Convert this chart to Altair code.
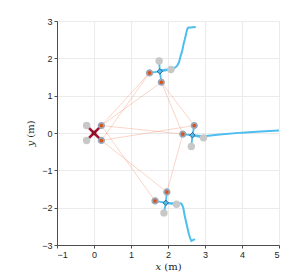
import altair as alt
import pandas as pd

# ---------------- data ----------------
robot_names = ["R1", "R2", "R3", "R4"]
center_x = [0.0, 1.78, 2.66, 1.94]
center_y = [0.0, 1.65, -0.06, -1.87]
gray_x = [[-0.2, -0.2], [1.76, 2.08], [2.96, 2.63], [2.23, 1.89]]
gray_y = [[0.2, -0.2], [1.93, 1.70], [-0.13, -0.36], [-1.91, -2.14]]
orange_x = [[0.2, 0.2], [1.50, 1.82], [2.40, 2.71], [1.65, 1.97]]
orange_y = [[0.2, -0.2], [1.61, 1.36], [-0.03, 0.20], [-1.82, -1.58]]

# links between orange markers: (robot, marker) -> (robot, marker)
links = [
    ((0, 0), (1, 0)),
    ((0, 0), (1, 1)),
    ((0, 1), (1, 0)),
    ((0, 0), (2, 0)),
    ((0, 1), (2, 1)),
    ((0, 0), (3, 0)),
    ((0, 1), (3, 1)),
    ((1, 1), (2, 0)),
    ((1, 1), (2, 1)),
    ((2, 0), (3, 1)),
]

traj_top_x = [1.80, 2.07, 2.16, 2.24, 2.30, 2.34, 2.39, 2.42, 2.45, 2.48, 2.51, 2.54, 2.75]
traj_top_y = [1.68, 1.71, 1.73, 1.79, 1.90, 2.06, 2.22, 2.38, 2.49, 2.62, 2.75, 2.82, 2.84]
traj_right_x = [2.66, 2.97, 3.40, 4.00, 4.50, 5.00]
traj_right_y = [-0.06, -0.09, -0.04, 0.01, 0.04, 0.07]
traj_bot_x = [1.94, 2.25, 2.36, 2.41, 2.45, 2.51, 2.56, 2.60, 2.63, 2.73]
traj_bot_y = [-1.88, -1.88, -1.89, -1.99, -2.21, -2.47, -2.69, -2.82, -2.89, -2.84]

x_ticks = [-1, 0, 1, 2, 3, 4, 5]
y_ticks = [-3, -2, -1, 0, 1, 2, 3]

# ---------------- tables ----------------
arms = []
for i, r in enumerate(robot_names):
    for px, py in zip(gray_x[i] + orange_x[i], gray_y[i] + orange_y[i]):
        arms.append({"robot": r, "x": center_x[i], "y": center_y[i], "x2": px, "y2": py,
                     "lead": i == 0})
arms = pd.DataFrame(arms)

grays = pd.DataFrame([{"x": x, "y": y} for i in range(4) for x, y in zip(gray_x[i], gray_y[i])])
oranges = pd.DataFrame([{"x": x, "y": y} for i in range(4) for x, y in zip(orange_x[i], orange_y[i])])
centers = pd.DataFrame({"robot": robot_names, "x": center_x, "y": center_y, "lead": [True, False, False, False]})

link_df = pd.DataFrame([
    {"x": orange_x[a][b], "y": orange_y[a][b], "x2": orange_x[c][d], "y2": orange_y[c][d]}
    for (a, b), (c, d) in links
])

traj = pd.concat([
    pd.DataFrame({"id": "top", "x": traj_top_x, "y": traj_top_y, "o": range(len(traj_top_x))}),
    pd.DataFrame({"id": "right", "x": traj_right_x, "y": traj_right_y, "o": range(len(traj_right_x))}),
    pd.DataFrame({"id": "bot", "x": traj_bot_x, "y": traj_bot_y, "o": range(len(traj_bot_x))}),
])

xs = alt.Scale(domain=[-1, 5], nice=False)
ys = alt.Scale(domain=[-3, 3], nice=False)

X = alt.X("x:Q", scale=xs, axis=alt.Axis(values=x_ticks, title="𝑥 (m)", titleFont="DejaVu Serif",
                                         titleFontSize=10, titleFontWeight="normal", titlePadding=2))
Y = alt.Y("y:Q", scale=ys, axis=alt.Axis(values=y_ticks, title="𝑦 (m)", titleFont="DejaVu Serif",
                                         titleFontSize=10, titleFontWeight="normal", titlePadding=6))

link_layer = alt.Chart(link_df).mark_rule(color="#F08A65", opacity=0.45, strokeWidth=0.8).encode(
    x=X, y=Y, x2="x2:Q", y2="y2:Q")

traj_layer = alt.Chart(traj).mark_line(color="#4DBEEE", strokeWidth=2).encode(
    x=X, y=Y, detail="id:N", order="o:Q")

arm_blue = alt.Chart(arms[~arms["lead"]]).mark_rule(color="#4DBEEE", strokeWidth=1.8).encode(
    x=X, y=Y, x2="x2:Q", y2="y2:Q")
arm_red = alt.Chart(arms[arms["lead"]]).mark_rule(color="#A2142F", strokeWidth=2.5).encode(
    x=X, y=Y, x2="x2:Q", y2="y2:Q")

gray_layer = alt.Chart(grays).mark_circle(color="#C8C8C8", size=55, opacity=1).encode(x=X, y=Y)
orange_layer = alt.Chart(oranges).mark_point(shape="circle", filled=True, fill="#D95319", size=30,
                                             stroke="#9AA6B8", strokeWidth=1.8, opacity=1).encode(x=X, y=Y)
center_blue = alt.Chart(centers[~centers["lead"]]).mark_point(shape="diamond", filled=True, fill="#4DBEEE",
                                                              stroke="#1F4E79", strokeWidth=0.8, size=30,
                                                              opacity=1).encode(x=X, y=Y)
center_red = alt.Chart(centers[centers["lead"]]).mark_point(shape="square", filled=True, fill="#8B0F25",
                                                            size=18, opacity=1).encode(x=X, y=Y)

chart = alt.layer(link_layer, traj_layer, arm_blue, arm_red, gray_layer, orange_layer,
                  center_blue, center_red).properties(
    width=222, height=224, autosize="none",
    padding={"left": 49, "top": 13, "right": 12, "bottom": 30},
).configure_view(stroke="#EEEEEE").configure_axis(
    labelFont="Liberation Sans", labelFontSize=9, labelColor="#262626",
    domainColor="#4D4D4D", tickColor="#4D4D4D", tickSize=3, labelPadding=2,
    gridColor="#EBEBEB", titleColor="#262626",
)

chart.save("out.html", embed_options={"renderer": "svg", "actions": False})
